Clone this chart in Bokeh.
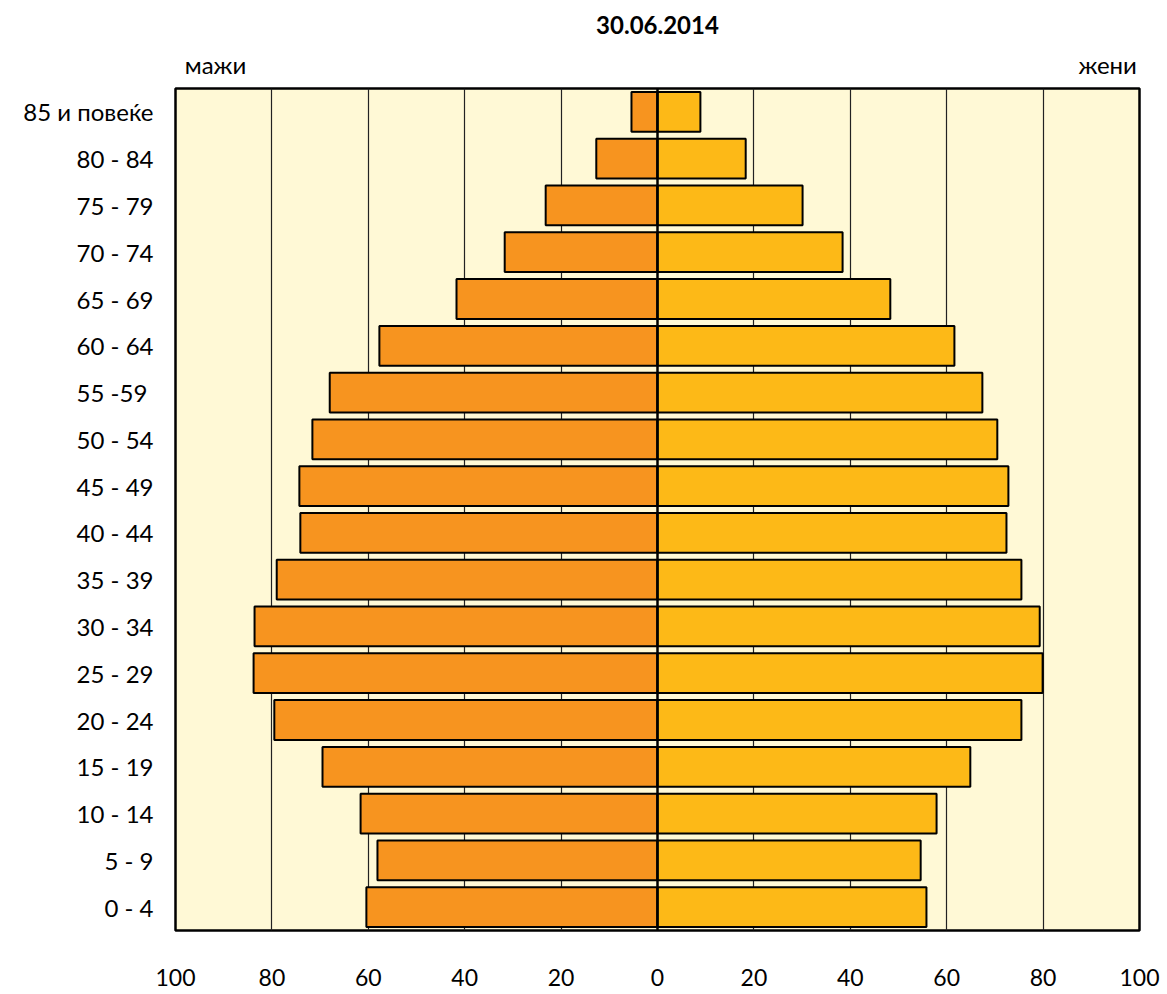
from bokeh.plotting import figure
from bokeh.models import Range1d, FactorRange, FixedTicker, LinearAxis, Span, ColumnDataSource
from bokeh.embed import file_html
from bokeh.resources import INLINE

age_groups = ["0 - 4", "5 - 9", "10 - 14", "15 - 19", "20 - 24", "25 - 29", "30 - 34",
              "35 - 39", "40 - 44", "45 - 49", "50 - 54", "55  -59", "60 - 64", "65 - 69",
              "70 - 74", "75 - 79", "80 - 84", "85 и повеќе"]
males = [60.4, 58.1, 61.6, 69.5, 79.5, 83.8, 83.6, 79.0, 74.1, 74.3, 71.6, 68.0, 57.7,
         41.7, 31.7, 23.2, 12.7, 5.4]
females = [55.8, 54.6, 57.9, 64.9, 75.5, 79.9, 79.3, 75.5, 72.4, 72.8, 70.5, 67.4, 61.6,
           48.3, 38.4, 30.1, 18.3, 8.9]
x_ticks = [-100, -80, -60, -40, -20, 0, 20, 40, 60, 80, 100]
x_tick_labels = ["100", "80", "60", "40", "20", "0", "20", "40", "60", "80", "100"]
title_text = "30.06.2014"
left_label = "мажи"
right_label = "жени"

FONT = "Lato"

src = ColumnDataSource(dict(
    age=age_groups,
    mleft=[-v for v in males],
    fright=females,
    zero=[0] * len(age_groups),
))

p = figure(width=1160, height=994, output_backend="svg", toolbar_location=None,
           x_range=Range1d(-100, 100), y_range=FactorRange(factors=age_groups),
           min_border_left=175, min_border_right=21, min_border_top=10, min_border_bottom=64)

p.title.text = title_text
p.title.align = "center"
p.title.text_font = FONT
p.title.text_font_size = "24px"
p.title.text_font_style = "bold"
p.title.text_color = "black"
p.title.offset = 0
p.title.standoff = 26

p.background_fill_color = "#FFF9D6"
p.border_fill_color = "white"
p.outline_line_color = "black"
p.outline_line_width = 2.5
p.outline_line_alpha = 1

p.ygrid.grid_line_color = None
p.xgrid.ticker = FixedTicker(ticks=[-80, -60, -40, -20, 20, 40, 60, 80])
p.xgrid.grid_line_color = "#222222"
p.xgrid.grid_line_width = 1.2

p.hbar(y="age", left="mleft", right="zero", height=0.85, source=src,
       fill_color="#F7941F", line_color="black", line_width=2)
p.hbar(y="age", left="zero", right="fright", height=0.85, source=src,
       fill_color="#FDB917", line_color="black", line_width=2)

p.add_layout(Span(location=0, dimension="height", line_color="black", line_width=2.5))

xa = p.xaxis[0]
xa.ticker = FixedTicker(ticks=x_ticks)
xa.major_label_overrides = {t: l for t, l in zip(x_ticks, x_tick_labels)}
xa.axis_line_color = None
xa.major_tick_line_color = None
xa.minor_tick_line_color = None
xa.major_label_standoff = 32
xa.major_label_text_font = FONT
xa.major_label_text_font_size = "23px"
xa.major_label_text_color = "black"

ya = p.yaxis[0]
ya.axis_line_color = None
ya.major_tick_line_color = None
ya.minor_tick_line_color = None
ya.major_label_standoff = 16
ya.major_label_text_font = FONT
ya.major_label_text_font_size = "24px"
ya.major_label_text_color = "black"

top_axis = LinearAxis(ticker=FixedTicker(ticks=[-91.7, 93.4]),
                      major_label_overrides={-91.7: left_label, 93.4: right_label})
top_axis.axis_line_color = None
top_axis.major_tick_line_color = None
top_axis.minor_tick_line_color = None
top_axis.major_label_standoff = 4
top_axis.major_label_text_font = FONT
top_axis.major_label_text_font_size = "24px"
top_axis.major_label_text_color = "black"
p.add_layout(top_axis, "above")

open("out.html", "w").write(file_html(p, INLINE))
